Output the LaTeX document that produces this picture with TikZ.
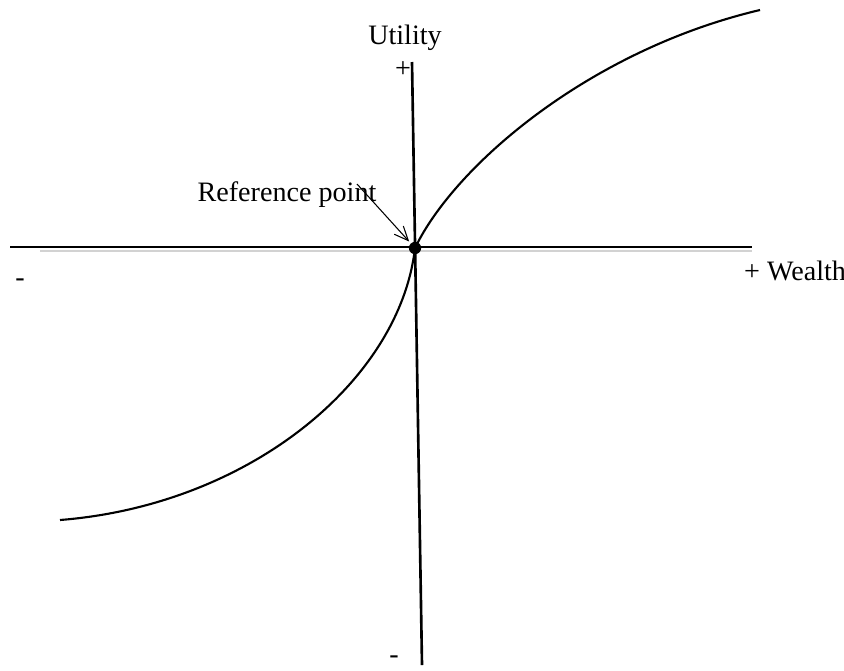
\documentclass[tikz,border=0pt]{standalone}
\usepackage{fontspec}
\setmainfont{Liberation Serif}
\usetikzlibrary{arrows.meta}
\begin{document}
\begin{tikzpicture}[x=0.02cm,y=-0.02cm,>={Straight Barb[length=8pt,width=7pt]},font=\fontsize{16}{19}\selectfont]
\useasboundingbox (0,0) rectangle (844,670);
% axes
\draw[gray!35,line width=1.5pt] (40,251) -- (752,251);
\draw[line width=1.5pt] (10,247) -- (752,247);
\draw[line width=1.5pt] (412,62) -- (422,665);
\coordinate (O) at (415,248);
% value curve
\draw[line width=1.2pt] (O) .. controls (455,165) and (590,50) .. (760,10);
\draw[line width=1.2pt] (O) .. controls (400,380) and (250,505) .. (60,520);
\fill (O) circle (3.5pt);
\node (U) at (405,38) {Utility};
\node (up) at (403,70) {+};
\node (W) at (795,271) {+ Wealth};
\node (lm) at (20,283) {-};
\node (dm) at (394,660) {-};
\node (R) at (287,195) {Reference point};
\draw[->,semithick,shorten >=5pt] (357,184) -- (O);
\end{tikzpicture}
\end{document}
